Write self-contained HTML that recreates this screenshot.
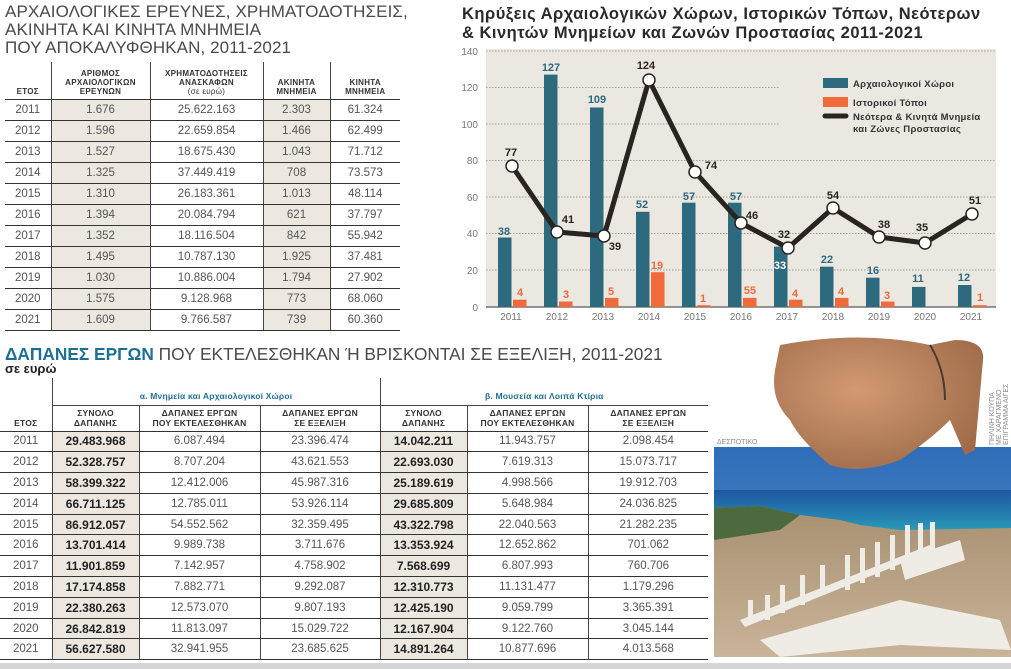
<!DOCTYPE html>
<html><head><meta charset="utf-8">
<style>
*{margin:0;padding:0;box-sizing:border-box}
body{width:1011px;height:669px;background:#fff;position:relative;overflow:hidden;font-family:"Liberation Sans","DejaVu Sans",sans-serif;color:#333}
.abs{position:absolute}
table{border-collapse:collapse;table-layout:fixed;position:absolute}
td,th{padding:0;text-align:center;vertical-align:middle}
#t1 th{font-size:8px;font-weight:bold;color:#333;line-height:9px;vertical-align:bottom;padding-bottom:3px;border-left:1px solid #444;border-bottom:1px solid #333;letter-spacing:0.3px}
#t1 th:first-child{border-left:none}
#t1 td{font-size:11.5px;color:#555;height:21px;border-bottom:1px solid #333;border-left:1px solid #444}
#t1 td:first-child{border-left:none}
.sh{background:#ece8df}
#t2 th{font-size:8.5px;font-weight:bold;color:#333;line-height:10px;border-left:1px solid #444;letter-spacing:0.2px}
#t2 th:first-child{border-left:none}
#t2 .g th{color:#1f6f94;font-size:8.5px;height:18px;border-bottom:1px solid #444}
#t2 .s th{height:26px;border-bottom:1px solid #333}
#t2 td{font-size:11.5px;color:#555;height:20.8px;border-bottom:1px solid #333;border-left:1px solid #444}
#t2 td:first-child{border-left:none}
#t2 td.b{font-weight:bold;color:#222;font-size:12px}
</style></head><body>

<div class="abs" style="left:5px;top:3px;font-size:17px;line-height:18px;color:#4a4a4a;letter-spacing:0.1px">ΑΡΧΑΙΟΛΟΓΙΚΕΣ ΕΡΕΥΝΕΣ, ΧΡΗΜΑΤΟΔΟΤΗΣΕΙΣ,<br>ΑΚΙΝΗΤΑ ΚΑΙ ΚΙΝΗΤΑ ΜΝΗΜΕΙΑ<br>ΠΟΥ ΑΠΟΚΑΛΥΦΘΗΚΑΝ, 2011-2021</div>

<table id="t1" style="left:5px;top:62px;width:395px">
<colgroup><col style="width:46px"><col style="width:99px"><col style="width:113px"><col style="width:67px"><col style="width:70px"></colgroup>
<tr style="height:37px"><th>ΕΤΟΣ</th><th>ΑΡΙΘΜΟΣ<br>ΑΡΧΑΙΟΛΟΓΙΚΩΝ<br>ΕΡΕΥΝΩΝ</th><th>ΧΡΗΜΑΤΟΔΟΤΗΣΕΙΣ<br>ΑΝΑΣΚΑΦΩΝ<br><span style="font-weight:normal">(σε ευρώ)</span></th><th>ΑΚΙΝΗΤΑ<br>ΜΝΗΜΕΙΑ</th><th>ΚΙΝΗΤΑ<br>ΜΝΗΜΕΙΑ</th></tr>
<tr><td>2011</td><td class="sh">1.676</td><td>25.622.163</td><td class="sh">2.303</td><td>61.324</td></tr>
<tr><td>2012</td><td class="sh">1.596</td><td>22.659.854</td><td class="sh">1.466</td><td>62.499</td></tr>
<tr><td>2013</td><td class="sh">1.527</td><td>18.675.430</td><td class="sh">1.043</td><td>71.712</td></tr>
<tr><td>2014</td><td class="sh">1.325</td><td>37.449.419</td><td class="sh">708</td><td>73.573</td></tr>
<tr><td>2015</td><td class="sh">1.310</td><td>26.183.361</td><td class="sh">1.013</td><td>48.114</td></tr>
<tr><td>2016</td><td class="sh">1.394</td><td>20.084.794</td><td class="sh">621</td><td>37.797</td></tr>
<tr><td>2017</td><td class="sh">1.352</td><td>18.116.504</td><td class="sh">842</td><td>55.942</td></tr>
<tr><td>2018</td><td class="sh">1.495</td><td>10.787.130</td><td class="sh">1.925</td><td>37.481</td></tr>
<tr><td>2019</td><td class="sh">1.030</td><td>10.886.004</td><td class="sh">1.794</td><td>27.902</td></tr>
<tr><td>2020</td><td class="sh">1.575</td><td>9.128.968</td><td class="sh">773</td><td>68.060</td></tr>
<tr><td>2021</td><td class="sh">1.609</td><td>9.766.587</td><td class="sh">739</td><td>60.360</td></tr>
</table>

<svg class="abs" style="left:0;top:0" width="1011" height="335" font-family="Liberation Sans, sans-serif">
<text x="462" y="19" font-size="16.5" font-weight="bold" fill="#2a2a2a" letter-spacing="0.5">Κηρύξεις Αρχαιολογικών Χώρων, Ιστορικών Τόπων, Νεότερων</text>
<text x="462" y="38" font-size="16.5" font-weight="bold" fill="#2a2a2a" letter-spacing="0.5">&amp; Κινητών Μνημείων και Ζωνών Προστασίας 2011-2021</text>
<rect x="486" y="49" width="510" height="258" fill="#ebe8e1"/>
<g stroke="#888" stroke-dasharray="1.5,1.5" stroke-width="0.8">
<line x1="486" x2="996" y1="51" y2="51"/>
<line x1="486" x2="780" y1="87.5" y2="87.5"/>
<line x1="486" x2="780" y1="124" y2="124"/>
<line x1="486" x2="996" y1="160.5" y2="160.5"/>
<line x1="486" x2="996" y1="197" y2="197"/>
<line x1="486" x2="996" y1="233.5" y2="233.5"/>
<line x1="486" x2="996" y1="270" y2="270"/>
</g>
<line x1="486" x2="996" y1="307" y2="307" stroke="#333" stroke-width="1"/>
<g font-size="10" fill="#777" text-anchor="end">
<text x="478" y="55">140</text><text x="478" y="91">120</text><text x="478" y="128">100</text><text x="478" y="164">80</text><text x="478" y="201">60</text><text x="478" y="237">40</text><text x="478" y="274">20</text><text x="478" y="311">0</text>
</g>
<g font-size="10" fill="#777" text-anchor="middle">
<text x="511" y="320">2011</text><text x="557" y="320">2012</text><text x="603" y="320">2013</text><text x="649" y="320">2014</text><text x="695" y="320">2015</text><text x="741" y="320">2016</text><text x="787" y="320">2017</text><text x="833" y="320">2018</text><text x="879" y="320">2019</text><text x="925" y="320">2020</text><text x="971" y="320">2021</text>
</g>
<g fill="#2e6a7e">
<rect x="498" y="237.5" width="13.5" height="69.5"/>
<rect x="544" y="74.6" width="13.5" height="232.4"/>
<rect x="590" y="107.5" width="13.5" height="199.5"/>
<rect x="636" y="211.8" width="13.5" height="95.2"/>
<rect x="682" y="202.7" width="13.5" height="104.3"/>
<rect x="728" y="202.7" width="13.5" height="104.3"/>
<rect x="774" y="246.6" width="13.5" height="60.4"/>
<rect x="820" y="266.7" width="13.5" height="40.3"/>
<rect x="866" y="277.7" width="13.5" height="29.3"/>
<rect x="912" y="286.9" width="13.5" height="20.1"/>
<rect x="958" y="285" width="13.5" height="22"/>
</g>
<g fill="#f26a3a">
<rect x="513" y="299.7" width="13.5" height="7.3"/>
<rect x="559" y="301.5" width="13.5" height="5.5"/>
<rect x="605" y="297.9" width="13.5" height="9.1"/>
<rect x="651" y="272.2" width="13.5" height="34.8"/>
<rect x="697" y="305.2" width="13.5" height="1.8"/>
<rect x="743" y="297.9" width="13.5" height="9.1"/>
<rect x="789" y="299.7" width="13.5" height="7.3"/>
<rect x="835" y="297.9" width="13.5" height="9.1"/>
<rect x="881" y="301.5" width="13.5" height="5.5"/>
<rect x="973" y="305.2" width="13.5" height="1.8"/>
</g>
<polyline fill="none" stroke="#2a2420" stroke-width="5" stroke-linejoin="round" points="512,166 557,232 604,236 649,80 695,172 741,223 788,248 833,208 879,237 925,243 972,214"/>
<g fill="#fff" stroke="#2a2420" stroke-width="1.5">
<circle cx="512" cy="166" r="6"/><circle cx="557" cy="232" r="6"/><circle cx="604" cy="236" r="6"/><circle cx="649" cy="80" r="6"/><circle cx="695" cy="172" r="6"/><circle cx="741" cy="223" r="6"/><circle cx="788" cy="248" r="6"/><circle cx="833" cy="208" r="6"/><circle cx="879" cy="237" r="6"/><circle cx="925" cy="243" r="6"/><circle cx="972" cy="214" r="6"/>
</g>
<g font-size="11" font-weight="bold" fill="#2a2420" text-anchor="middle">
<text x="511" y="156">77</text><text x="568" y="223">41</text><text x="615" y="250">39</text><text x="646" y="69">124</text><text x="711" y="169">74</text><text x="752" y="219">46</text><text x="784" y="238">32</text><text x="833" y="199">54</text><text x="884" y="228">38</text><text x="922" y="231">35</text><text x="975" y="204">51</text>
</g>
<g font-size="11" font-weight="bold" fill="#2e6a7e" text-anchor="middle">
<text x="504" y="235">38</text><text x="551" y="71">127</text><text x="597" y="103">109</text><text x="642" y="208">52</text><text x="689" y="200">57</text><text x="736" y="200">57</text><text x="780" y="269" fill="#fff">33</text><text x="827" y="263">22</text><text x="873" y="274">16</text><text x="918" y="282">11</text><text x="964" y="281">12</text>
</g>
<g font-size="11" font-weight="bold" fill="#f26a3a" text-anchor="middle">
<text x="520" y="296">4</text><text x="566" y="298">3</text><text x="611" y="295">5</text><text x="657" y="269">19</text><text x="703" y="302">1</text><text x="750" y="294">55</text><text x="795" y="297">4</text><text x="841" y="295">4</text><text x="887" y="299">3</text><text x="980" y="301">1</text>
</g>
<rect x="823" y="78" width="25" height="10" fill="#2e6a7e"/>
<rect x="823" y="97" width="25" height="10" fill="#f26a3a"/>
<line x1="825" x2="846" y1="116" y2="116" stroke="#2a2420" stroke-width="5" stroke-linecap="round"/>
<g font-size="9.5" font-weight="bold" fill="#333" letter-spacing="0.3">
<text x="853" y="87">Αρχαιολογικοί Χώροι</text>
<text x="853" y="106">Ιστορικοί Τόποι</text>
<text x="853" y="120">Νεότερα &amp; Κινητά Μνημεία</text>
<text x="853" y="132">και Ζώνες Προστασίας</text>
</g>
</svg>

<div class="abs" style="left:5px;top:344px;font-size:17.3px;color:#4a4a4a;white-space:nowrap;letter-spacing:0px"><b style="color:#1f6f94">ΔΑΠΑΝΕΣ ΕΡΓΩΝ</b> ΠΟΥ ΕΚΤΕΛΕΣΘΗΚΑΝ Ή ΒΡΙΣΚΟΝΤΑΙ ΣΕ ΕΞΕΛΙΞΗ, 2011-2021</div>
<div class="abs" style="left:5px;top:361px;font-size:13px;font-weight:bold;color:#222">σε ευρώ</div>
<div class="abs" style="left:52px;top:378px;width:1px;height:10px;background:#444"></div>
<div class="abs" style="left:380px;top:378px;width:1px;height:10px;background:#444"></div>

<table id="t2" style="left:0;top:387px;width:708px">
<colgroup><col style="width:52px"><col style="width:87px"><col style="width:121px"><col style="width:120px"><col style="width:87px"><col style="width:121px"><col style="width:120px"></colgroup>
<tr class="g"><th style="border-bottom:none"></th><th colspan="3">α. Μνημεία και Αρχαιολογικοί Χώροι</th><th colspan="3">β. Μουσεία και Λοιπά Κτίρια</th></tr>
<tr class="s"><th style="vertical-align:bottom;padding-bottom:3px">ΕΤΟΣ</th><th>ΣΥΝΟΛΟ<br>ΔΑΠΑΝΗΣ</th><th>ΔΑΠΑΝΕΣ ΕΡΓΩΝ<br>ΠΟΥ ΕΚΤΕΛΕΣΘΗΚΑΝ</th><th>ΔΑΠΑΝΕΣ ΕΡΓΩΝ<br>ΣΕ ΕΞΕΛΙΞΗ</th><th>ΣΥΝΟΛΟ<br>ΔΑΠΑΝΗΣ</th><th>ΔΑΠΑΝΕΣ ΕΡΓΩΝ<br>ΠΟΥ ΕΚΤΕΛΕΣΘΗΚΑΝ</th><th>ΔΑΠΑΝΕΣ ΕΡΓΩΝ<br>ΣΕ ΕΞΕΛΙΞΗ</th></tr>
<tr><td>2011</td><td class="sh b">29.483.968</td><td>6.087.494</td><td>23.396.474</td><td class="sh b">14.042.211</td><td>11.943.757</td><td>2.098.454</td></tr>
<tr><td>2012</td><td class="sh b">52.328.757</td><td>8.707.204</td><td>43.621.553</td><td class="sh b">22.693.030</td><td>7.619.313</td><td>15.073.717</td></tr>
<tr><td>2013</td><td class="sh b">58.399.322</td><td>12.412.006</td><td>45.987.316</td><td class="sh b">25.189.619</td><td>4.998.566</td><td>19.912.703</td></tr>
<tr><td>2014</td><td class="sh b">66.711.125</td><td>12.785.011</td><td>53.926.114</td><td class="sh b">29.685.809</td><td>5.648.984</td><td>24.036.825</td></tr>
<tr><td>2015</td><td class="sh b">86.912.057</td><td>54.552.562</td><td>32.359.495</td><td class="sh b">43.322.798</td><td>22.040.563</td><td>21.282.235</td></tr>
<tr><td>2016</td><td class="sh b">13.701.414</td><td>9.989.738</td><td>3.711.676</td><td class="sh b">13.353.924</td><td>12.652.862</td><td>701.062</td></tr>
<tr><td>2017</td><td class="sh b">11.901.859</td><td>7.142.957</td><td>4.758.902</td><td class="sh b">7.568.699</td><td>6.807.993</td><td>760.706</td></tr>
<tr><td>2018</td><td class="sh b">17.174.858</td><td>7.882.771</td><td>9.292.087</td><td class="sh b">12.310.773</td><td>11.131.477</td><td>1.179.296</td></tr>
<tr><td>2019</td><td class="sh b">22.380.263</td><td>12.573.070</td><td>9.807.193</td><td class="sh b">12.425.190</td><td>9.059.799</td><td>3.365.391</td></tr>
<tr><td>2020</td><td class="sh b">26.842.819</td><td>11.813.097</td><td>15.029.722</td><td class="sh b">12.167.904</td><td>9.122.760</td><td>3.045.144</td></tr>
<tr><td>2021</td><td class="sh b">56.627.580</td><td>32.941.955</td><td>23.685.625</td><td class="sh b">14.891.264</td><td>10.877.696</td><td>4.013.568</td></tr>
</table>

<svg class="abs" style="left:0;top:0" width="1011" height="669">
<defs>
<linearGradient id="sky" x1="0" y1="0" x2="0" y2="1"><stop offset="0" stop-color="#2f6db8"/><stop offset="1" stop-color="#5a93cf"/></linearGradient>
<linearGradient id="sea" x1="0" y1="0" x2="0" y2="1"><stop offset="0" stop-color="#1d56a0"/><stop offset="1" stop-color="#2a98b8"/></linearGradient>
<linearGradient id="land" x1="0" y1="0" x2="0" y2="1"><stop offset="0" stop-color="#a89070"/><stop offset="1" stop-color="#c9b49a"/></linearGradient>
<radialGradient id="pot" cx="0.4" cy="0.4" r="0.7"><stop offset="0" stop-color="#d19a72"/><stop offset="1" stop-color="#9e6a48"/></radialGradient>
</defs>
<rect x="714" y="447" width="297" height="210" fill="url(#sky)"/>
<rect x="714" y="490" width="297" height="40" fill="url(#sea)"/>
<path d="M714 508 L760 506 L800 515 L840 520 L860 525 L900 530 L1011 528 L1011 657 L714 657Z" fill="url(#land)"/>
<path d="M714 508 L760 506 L800 515 L780 530 L714 540Z" fill="#4d6a3e"/>
<g fill="#efece6">
<polygon points="740,620 930,545 935,550 745,627"/>
<polygon points="900,560 960,540 965,560 905,580"/>
<rect x="905" y="525" width="5" height="40"/><rect x="918" y="523" width="5" height="38"/><rect x="930" y="522" width="5" height="35"/><rect x="890" y="535" width="5" height="35"/><rect x="875" y="542" width="5" height="35"/><rect x="860" y="548" width="5" height="35"/><rect x="845" y="555" width="5" height="35"/><rect x="820" y="565" width="5" height="30"/><rect x="800" y="575" width="5" height="30"/><rect x="780" y="585" width="5" height="28"/><rect x="765" y="595" width="5" height="25"/><rect x="748" y="600" width="5" height="22"/>
<polygon points="760,640 900,600 1000,620 1011,650 900,645 780,657"/>
</g>
<path d="M780 345 Q860 330 930 345 L955 340 Q985 340 983 360 L975 450 L965 455 L950 420 Q930 440 900 460 Q860 475 830 465 Q800 440 790 420 Q770 400 775 370Z" fill="url(#pot)"/>
<path d="M930 345 Q945 370 945 400" stroke="#4a3a30" stroke-width="2" fill="none"/>
<text x="717" y="444" font-family="Liberation Sans,sans-serif" font-size="7" fill="#888">ΔΕΣΠΟΤΙΚΟ</text>
<g font-family="Liberation Sans,sans-serif" font-size="7" fill="#888">
<text transform="translate(994,445) rotate(-90)">ΠΗΛΙΝΗ ΚΟΥΠΑ</text>
<text transform="translate(1001,445) rotate(-90)">ΜΕ ΧΑΡΑΓΜΕΝΟ</text>
<text transform="translate(1008,445) rotate(-90)">ΕΠΙΓΡΑΜΜΑ ΑΙΓΕΣ</text>
</g>
<rect x="0" y="663" width="1011" height="6" fill="#d6d6d6"/>
</svg>
</body></html>
